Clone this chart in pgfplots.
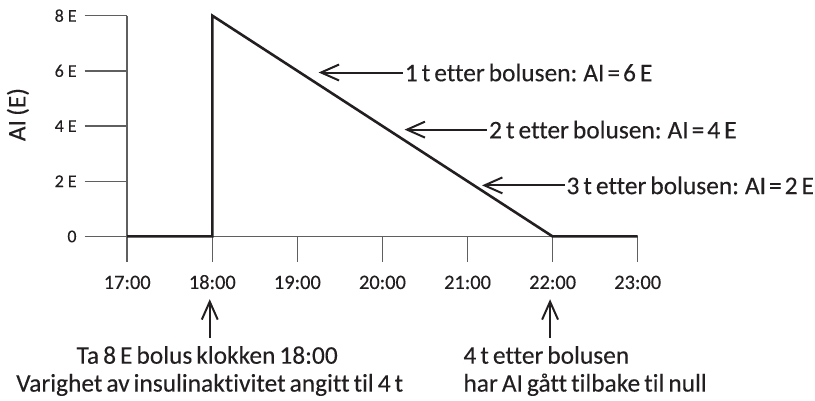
\documentclass[border=0pt]{standalone}
\usepackage{fontspec}
\setmainfont{Carlito}[Ligatures=NoCommon, WordSpace=0.7, FakeBold=0.2]
\usepackage{pgfplots}
\pgfplotsset{compat=1.18}
\usetikzlibrary{arrows.meta}

\definecolor{ink}{RGB}{35,31,32}
\definecolor{axisgray}{RGB}{95,95,95}

\newcommand{\txtfont}{\fontsize{25.5}{28}\selectfont}
\newcommand{\xtickfont}{\fontsize{20.5}{22}\selectfont}
\newcommand{\ytickfont}{\fontsize{18}{20}\selectfont}
\newcommand{\eq}{\kern3pt=\kern3pt}

\tikzset{
  barb/.tip={Straight Barb[length=18pt,width=16pt,line width=2pt]},
}

\begin{document}
\begin{tikzpicture}[x=1pt,y=1pt]
\begin{axis}[
  at={(0,0)}, anchor=south west,
  scale only axis,
  width=555pt, height=221.6pt,
  xmin=16.5, xmax=23, ymin=0, ymax=8,
  clip=false,
  axis lines=left,
  axis line style={draw=none,-},
  major tick length=0pt,
  tick style={draw=none},
  xtick={17,18,19,20,21,22,23},
  xticklabels={17:00,18:00,19:00,20:00,21:00,22:00,23:00},
  ytick={0,2,4,6,8},
  yticklabels={0,2\kern4pt E,4\kern4pt E,6\kern4pt E,8\kern4pt E},
  xticklabel style={font=\xtickfont, text=ink, anchor=base, inner sep=0pt, yshift=-52.7pt},
  yticklabel style={font=\ytickfont, text=ink, anchor=east, inner sep=0pt, xshift=-8pt},
  ylabel={AI\,(E)},
  every axis y label/.style={at={([xshift=-67pt]axis description cs:0,0.552)},
    rotate=90, anchor=center, font=\txtfont, text=ink},
]
% axis lines and long ticks
\draw[axisgray, line width=1.5pt] (axis cs:16.5,0) -- (axis cs:23,0);
\draw[axisgray, line width=1.5pt] (axis cs:17,8) -- (axis cs:17,0);
\pgfplotsinvokeforeach{2,4,6,8}{
  \draw[axisgray, line width=1.5pt] (axis cs:16.5,#1) -- (axis cs:17,#1);
}
\pgfplotsinvokeforeach{17,18,19,20,21,22,23}{
  \draw[axisgray, line width=1.5pt] (axis cs:#1,0) -- ([yshift=-26pt]axis cs:#1,0);
}

% insulin activity
\addplot[ink, line width=2.6pt] coordinates {
  (17,0) (18,0) (18,8) (22,0) (23,0)};

% annotations on the slope
\draw[ink, line width=2pt, {barb}-] (axis cs:19.25,5.94) -- (axis cs:20.24,5.94)
  node[anchor=west, inner sep=1pt, font=\txtfont, text=ink] {1 t etter bolusen: AI\eq6 E};
\draw[ink, line width=2pt, {barb}-] (axis cs:20.26,3.87) -- (axis cs:21.23,3.87)
  node[anchor=west, inner sep=1pt, font=\txtfont, text=ink] {2 t etter bolusen: AI\eq4 E};
\draw[ink, line width=2pt, {barb}-] (axis cs:21.17,1.85) -- (axis cs:22.14,1.85)
  node[anchor=west, inner sep=1pt, font=\txtfont, text=ink] {3 t etter bolusen: AI\eq2 E};

% arrows and notes under the axis
\draw[ink, line width=2pt, -{barb}] ([yshift=-102pt]axis cs:17.97,0) -- ([yshift=-63pt]axis cs:17.97,0);
\draw[ink, line width=2pt, -{barb}] ([yshift=-102pt]axis cs:21.97,0) -- ([yshift=-63pt]axis cs:21.97,0);

\node[anchor=base, inner sep=0pt, font=\txtfont, text=ink] at ([yshift=-127.7pt]axis cs:17.94,0)
  {Ta 8 E bolus klokken 18:00};
\node[anchor=base, inner sep=0pt, font=\txtfont, text=ink] at ([yshift=-155.7pt]axis cs:17.97,0)
  {Varighet av insulinaktivitet angitt til 4 t};
\node[anchor=base west, inner sep=0pt, font=\txtfont, text=ink] at ([yshift=-127.7pt]axis cs:20.95,0)
  {4 t etter bolusen};
\node[anchor=base west, inner sep=0pt, font=\txtfont, text=ink] at ([yshift=-155.7pt]axis cs:20.95,0)
  {har AI gått tilbake til null};
\end{axis}
\path (-85pt,-164.7pt) rectangle (730pt,237.3pt);
\end{tikzpicture}
\end{document}
